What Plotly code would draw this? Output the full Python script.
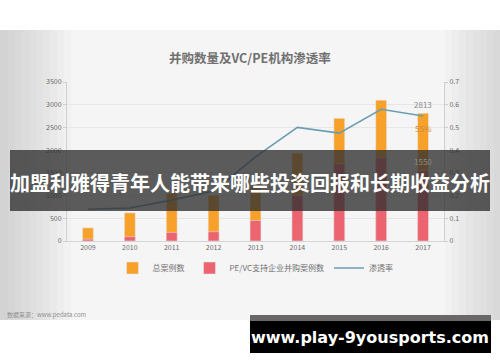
import plotly.graph_objects as go

years = ["2009", "2010", "2011", "2012", "2013", "2014", "2015", "2016", "2017"]
total_cases = [290, 620, 1050, 1010, 1200, 1930, 2700, 3100, 2813]
pevc_cases = [40, 95, 190, 205, 450, 1000, 1700, 1830, 1550]
penetration = [0.14, 0.145, 0.18, 0.22, 0.37, 0.50, 0.475, 0.58, 0.55]
left_ticks = [0, 500, 1000, 1500, 2000, 2500, 3000, 3500]
right_ticks = [0, 0.1, 0.2, 0.3, 0.4, 0.5, 0.6, 0.7]

FONT = "Noto Sans CJK SC"
W, H = 500, 362
L, R, T, B = 67, 444, 82, 241


def px(x):
    return (x - L) / (R - L)


def py(y):
    return (B - y) / (B - T)


last = len(years) - 1  # category index of the last year

fig = go.Figure()
fig.add_trace(go.Bar(x=years, y=total_cases, name="总案例数", marker_color="#F7A12A",
                     width=0.26, yaxis="y"))
fig.add_trace(go.Bar(x=years, y=pevc_cases, name="PE/VC支持企业并购案例数", marker_color="#EC6470",
                     width=0.26, yaxis="y"))
fig.add_trace(go.Scatter(x=years, y=penetration, name="渗透率", mode="lines",
                         line=dict(color="#6B9DB2", width=1.6), yaxis="y2"))

shapes = []
# chart photo background
shapes.append(dict(type="rect", xref="paper", yref="paper", x0=px(0), x1=px(W), y0=py(320), y1=py(30),
                   fillcolor="#f6f5f6", line_width=0, layer="below"))
# left vignette
for i in range(10):
    shapes.append(dict(type="rect", xref="paper", yref="paper", x0=px(0), x1=px(8 + i * 7),
                       y0=py(320), y1=py(30), fillcolor="#9a9a9a", opacity=0.045,
                       line_width=0, layer="below"))
# right vignette
for i in range(8):
    shapes.append(dict(type="rect", xref="paper", yref="paper", x0=px(W - 6 - i * 7), x1=px(W),
                       y0=py(320), y1=py(30), fillcolor="#9a9a9a", opacity=0.04,
                       line_width=0, layer="below"))
# banner
shapes.append(dict(type="rect", xref="paper", yref="paper", x0=px(10), x1=px(490), y0=py(211), y1=py(150),
                   fillcolor="rgba(48,48,48,0.78)", line_width=0, layer="above"))
# watermark box
shapes.append(dict(type="rect", xref="paper", yref="paper", x0=px(250), x1=px(491), y0=py(321), y1=py(315),
                   fillcolor="#6a6768", line_width=0, layer="above"))
shapes.append(dict(type="rect", xref="paper", yref="paper", x0=px(250), x1=px(491), y0=py(353), y1=py(321),
                   fillcolor="#000000", line_width=0, layer="above"))

annotations = [
    dict(text="<b>并购数量及VC/PE机构渗透率</b>", xref="paper", yref="paper", x=px(250), y=py(57),
         showarrow=False, font=dict(family=FONT, size=12.5, color="#707070"), xanchor="center", yanchor="middle"),
    dict(text=str(total_cases[-1]), x=last, xref="x", y=total_cases[-1], yref="y", showarrow=False,
         yshift=9, font=dict(family=FONT, size=8, color="#8a8a8a")),
    dict(text=f"{round(penetration[-1] * 100)}%", x=last, xref="x", y=penetration[-1], yref="y2",
         showarrow=False, yshift=-12, font=dict(family=FONT, size=8, color="#d08a40")),
    dict(text=str(pevc_cases[-1]), x=last, xref="x", y=pevc_cases[-1], yref="y", showarrow=False,
         yshift=9, font=dict(family=FONT, size=8, color="#8a8a8a")),
    dict(text="数据来源：www.pedata.com", xref="paper", yref="paper", x=px(5), y=py(314),
         showarrow=False, font=dict(family=FONT, size=6, color="#8f8f8f"), xanchor="left", yanchor="middle"),
    dict(text="<b>加盟利雅得青年人能带来哪些投资回报和长期收益分析</b>", xref="paper", yref="paper",
         x=px(250), y=py(182), showarrow=False, font=dict(family=FONT, size=20, color="#ffffff"),
         xanchor="center", yanchor="middle"),
    dict(text="<b>www.play-9yousports.com</b>", xref="paper", yref="paper",
         x=px(370), y=py(337), showarrow=False, font=dict(family="DejaVu Sans", size=16, color="#ffffff"),
         xanchor="center", yanchor="middle"),
]

fig.update_layout(
    width=W, height=H,
    margin=dict(l=L, r=W - R, t=T, b=H - B, pad=0, autoexpand=False),
    paper_bgcolor="#ffffff", plot_bgcolor="rgba(0,0,0,0)",
    barmode="overlay",
    showlegend=True,
    legend=dict(orientation="h", x=0.5, xanchor="center", y=py(268), yanchor="middle",
                font=dict(family=FONT, size=8, color="#707070"), bgcolor="rgba(0,0,0,0)",
                itemwidth=30, tracegroupgap=0),
    xaxis=dict(type="category", showgrid=False, showline=True, linecolor="#d4d4d4", ticks="",
               tickfont=dict(family=FONT, size=7, color="#6a6a6a"), fixedrange=True),
    yaxis=dict(range=[0, 3500], tickvals=left_ticks, showgrid=True, gridcolor="#e6e6e6",
               showline=True, linecolor="#cfcfcf", ticks="outside", ticklen=3, tickcolor="#cfcfcf",
               tickfont=dict(family=FONT, size=7, color="#6a6a6a"), zeroline=False),
    yaxis2=dict(range=[0, 0.7], tickvals=right_ticks, overlaying="y", side="right", showgrid=False,
                showline=True, linecolor="#cfcfcf", ticks="outside", ticklen=3, tickcolor="#cfcfcf",
                tickfont=dict(family=FONT, size=7, color="#6a6a6a"), zeroline=False,
                tickformat="~g"),
    shapes=shapes,
    annotations=annotations,
    font=dict(family=FONT),
)

fig.write_html("out.html", config={"displayModeBar": False},
               post_script="document.body.style.margin='0';document.body.style.overflow='hidden';")
